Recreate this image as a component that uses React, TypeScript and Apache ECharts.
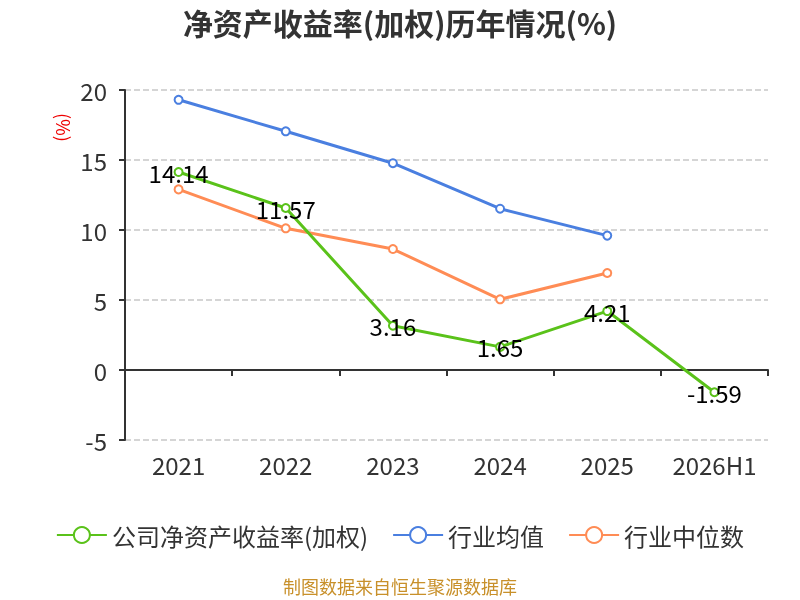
import React, { useEffect, useRef } from "react";
import * as echarts from "echarts";

const categories = ["2021", "2022", "2023", "2024", "2025", "2026H1"];
const companyRoe = [14.14, 11.57, 3.16, 1.65, 4.21, -1.59];
const industryAvg = [19.3, 17.05, 14.77, 11.52, 9.6, null];
const industryMedian = [12.9, 10.12, 8.64, 5.05, 6.93, null];
const seriesNames = ["公司净资产收益率(加权)", "行业均值", "行业中位数"];
const colors = ["#5ac21a", "#4a7fe0", "#ff8c55"];

const FONT = "'Noto Sans CJK SC', 'Noto Sans', sans-serif";

export default function App() {
  const ref = useRef<HTMLDivElement>(null);
  useEffect(() => {
    if (!ref.current) return;
    const chart = echarts.init(ref.current, undefined, { renderer: "svg" });
    const mk = (name: string, data: any[], color: string, withLabel: boolean) => ({
      name,
      type: "line",
      data,
      xAxisIndex: 0,
      symbol: "emptyCircle",
      symbolSize: 8,
      connectNulls: false,
      lineStyle: { width: 3, color },
      itemStyle: { color, borderWidth: 2 },
      label: withLabel
        ? {
            show: true,
            position: "inside",
            color: "#000",
            fontSize: 24,
            fontFamily: FONT,
          }
        : { show: false },
      z: withLabel ? 3 : 2,
    });
    chart.setOption({
      animation: false,
      textStyle: { fontFamily: FONT },
      title: {
        text: "净资产收益率(加权)历年情况(%)",
        left: "center",
        top: 2,
        textStyle: { fontSize: 30, fontWeight: "bold", color: "#333", fontFamily: FONT },
      },
      legend: {
        bottom: 48,
        left: "center",
        itemWidth: 50,
        itemHeight: 20,
        itemGap: 24,
        itemStyle: { borderWidth: 2 },
        textStyle: { fontSize: 24, color: "#333", fontFamily: FONT },
        data: seriesNames,
      },
      grid: { left: 125, right: 32, top: 90, bottom: 160 },
      xAxis: [
        {
          type: "category",
          data: categories,
          boundaryGap: true,
          axisLine: { onZero: true, lineStyle: { color: "#333", width: 2 } },
          axisTick: { show: true, length: 6, lineStyle: { color: "#333", width: 2 } },
          axisLabel: { show: false },
        },
        {
          type: "category",
          data: categories,
          position: "bottom",
          boundaryGap: true,
          axisLine: { show: false, onZero: false },
          axisTick: { show: false },
          axisLabel: { show: true, interval: 0, fontSize: 24, color: "#333", margin: 12, fontFamily: FONT },
        },
      ],
      yAxis: {
        type: "value",
        min: -5,
        max: 20,
        interval: 5,
        axisLine: { show: true, lineStyle: { color: "#333", width: 2 } },
        axisTick: { show: true, length: 6, lineStyle: { color: "#333", width: 2 } },
        axisLabel: { fontSize: 24, color: "#333", margin: 18, fontFamily: FONT },
        splitLine: { show: true, lineStyle: { type: "dashed", color: "#c8c8c8", width: 1.5 } },
      },
      graphic: [
        {
          type: "text",
          x: 73,
          y: 113,
          rotation: -Math.PI / 2,
          style: { text: "(%)", fill: "#e00", fontSize: 18, fontFamily: FONT },
        },
        {
          type: "text",
          x: 400,
          y: 586,
          style: {
            text: "制图数据来自恒生聚源数据库",
            fill: "#c8902a",
            fontSize: 18,
            lineHeight: 20,
            fontFamily: FONT,
            align: "center",
            verticalAlign: "middle",
          },
        },
      ],
      series: [
        mk(seriesNames[0], companyRoe, colors[0], true),
        mk(seriesNames[1], industryAvg, colors[1], false),
        mk(seriesNames[2], industryMedian, colors[2], false),
      ],
    });
    return () => chart.dispose();
  }, []);
  return (
    <div
      ref={ref}
      style={{ position: "fixed", left: 0, top: 0, width: 800, height: 600, overflow: "hidden" }}
    />
  );
}
